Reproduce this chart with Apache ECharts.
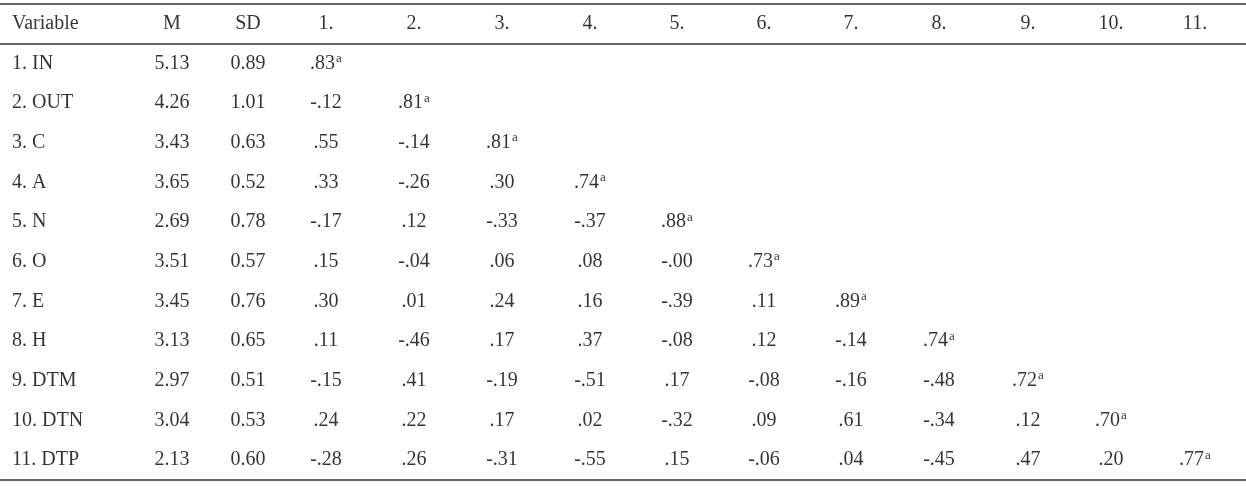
<!DOCTYPE html>
<html><head><meta charset="utf-8">
<script src="https://cdn.jsdelivr.net/npm/echarts@6/dist/echarts.min.js"></script>
<style>html,body{margin:0;padding:0;background:#fff}#c{width:1246px;height:486px}</style>
</head><body><div id="c"></div>
<script>
const headers = ['Variable','M','SD','1.','2.','3.','4.','5.','6.','7.','8.','9.','10.','11.'];
const variables = ['1. IN','2. OUT','3. C','4. A','5. N','6. O','7. E','8. H','9. DTM','10. DTN','11. DTP'];
const means = ['5.13','4.26','3.43','3.65','2.69','3.51','3.45','3.13','2.97','3.04','2.13'];
const sds = ['0.89','1.01','0.63','0.52','0.78','0.57','0.76','0.65','0.51','0.53','0.60'];
const correlations = [
 ['.83'],
 ['-.12','.81'],
 ['.55','-.14','.81'],
 ['.33','-.26','.30','.74'],
 ['-.17','.12','-.33','-.37','.88'],
 ['.15','-.04','.06','.08','-.00','.73'],
 ['.30','.01','.24','.16','-.39','.11','.89'],
 ['.11','-.46','.17','.37','-.08','.12','-.14','.74'],
 ['-.15','.41','-.19','-.51','.17','-.08','-.16','-.48','.72'],
 ['.24','.22','.17','.02','-.32','.09','.61','-.34','.12','.70'],
 ['-.28','.26','-.31','-.55','.15','-.06','.04','-.45','.47','.20','.77']
];
// layout: column centres in pixels
const colX = [12,172,248,326,414,502,590,677,764,851,939,1028,1111,1195];
const data = [];
headers.forEach((h,c)=>data.push({value:[colX[c],0.5],label:{formatter:h,align:c===0?'left':'center'}}));
variables.forEach((v,r)=>{
  const y=r+1.5;
  data.push({value:[colX[0],y],label:{formatter:v,align:'left'}});
  data.push({value:[colX[1],y],label:{formatter:means[r]}});
  data.push({value:[colX[2],y],label:{formatter:sds[r]}});
  correlations[r].forEach((s,k)=>{
    const diag = k===r;
    data.push({value:[colX[3+k],y],label:{formatter:diag?s+'{sup|a}':s}});
  });
});
const chart = echarts.init(document.getElementById('c'));
chart.setOption({
  animation:false,
  grid:{left:0,right:0,top:4,bottom:6},
  xAxis:{type:'value',min:0,max:1246,show:false},
  yAxis:{type:'value',min:0,max:12,inverse:true,show:false},
  series:[{
    type:'scatter',symbolSize:0,data:data,
    label:{show:true,position:'inside',color:'#000',fontFamily:'Liberation Serif',fontSize:20,align:'center',
      rich:{sup:{fontSize:13,verticalAlign:'top',padding:[0,0,10,1],fontFamily:'Liberation Serif',color:'#000'}}},
    markLine:{silent:true,symbol:'none',label:{show:false},lineStyle:{color:'#333',width:1.5,type:'solid'},
      data:[{yAxis:0},{yAxis:1},{yAxis:12}]}
  }]
});
</script></body></html>
